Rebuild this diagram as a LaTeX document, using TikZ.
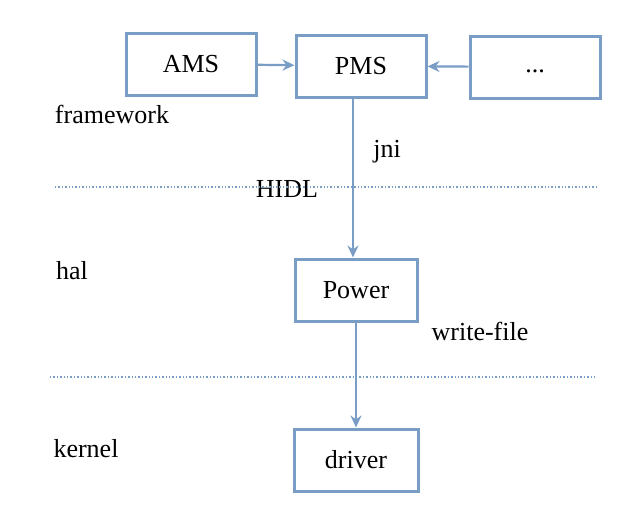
\documentclass[tikz,border=0pt]{standalone}
\usepackage{fontspec}
\setmainfont{Liberation Serif}
\usepackage{xcolor}
\usetikzlibrary{arrows.meta,positioning}
\definecolor{boxblue}{RGB}{122,157,198}

\begin{document}
\begin{tikzpicture}[
  x=0.5pt, y=-0.5pt,
  font=\fontsize{13}{15}\selectfont,
  box/.style={draw=boxblue,line width=1.5pt,minimum width=65pt,minimum height=31pt,inner sep=0pt},
  edge/.style={-{Stealth[length=6pt,width=5.5pt]},draw=boxblue,line width=1.1pt},
  layer/.style={draw=boxblue,line width=1pt,dash pattern=on 0.7pt off 1pt},
  label/.style={inner sep=0pt}
]
  \useasboundingbox (0,0) rectangle (639,509);

  % Nodes
  \node[box] (ams) at (191,64) {AMS};
  \node[box] (pms) at (361,66) {PMS};
  \node[box] (more) at (535,67) {\vphantom{Ay}...};
  \node[box,minimum width=61pt] (power) at (356,290) {Power};
  \node[box,minimum width=62pt] (driver) at (356,460) {driver};

  % Layer labels
  \node[label] (framework) at (112,114) {framework};
  \node[label] (hal) at (72,271) {hal};
  \node[label] (kernel) at (86,449) {kernel};

  % Interface labels
  \node[label] (jni) at (387,152) {jni};
  \node[label] (hidl) at (287,189) {HIDL};
  \node[label] (writefile) at (480,331) {write-file};

  % Layer boundaries
  \coordinate (l1a) at (55,187);
  \coordinate (l1b) at (598,187);
  \coordinate (l2a) at (50,377);
  \coordinate (l2b) at (595,377);
  \draw[layer] (l1a) -- (l1b);
  \draw[layer] (l2a) -- (l2b);

  % Calls
  \draw[edge] (ams) -- (pms);
  \draw[edge] (more) -- (pms);
  \draw[edge] ([xshift=-4pt]pms.south) -- ([xshift=-1.5pt]power.north);
  \draw[edge] (power) -- (driver);
\end{tikzpicture}
\end{document}
